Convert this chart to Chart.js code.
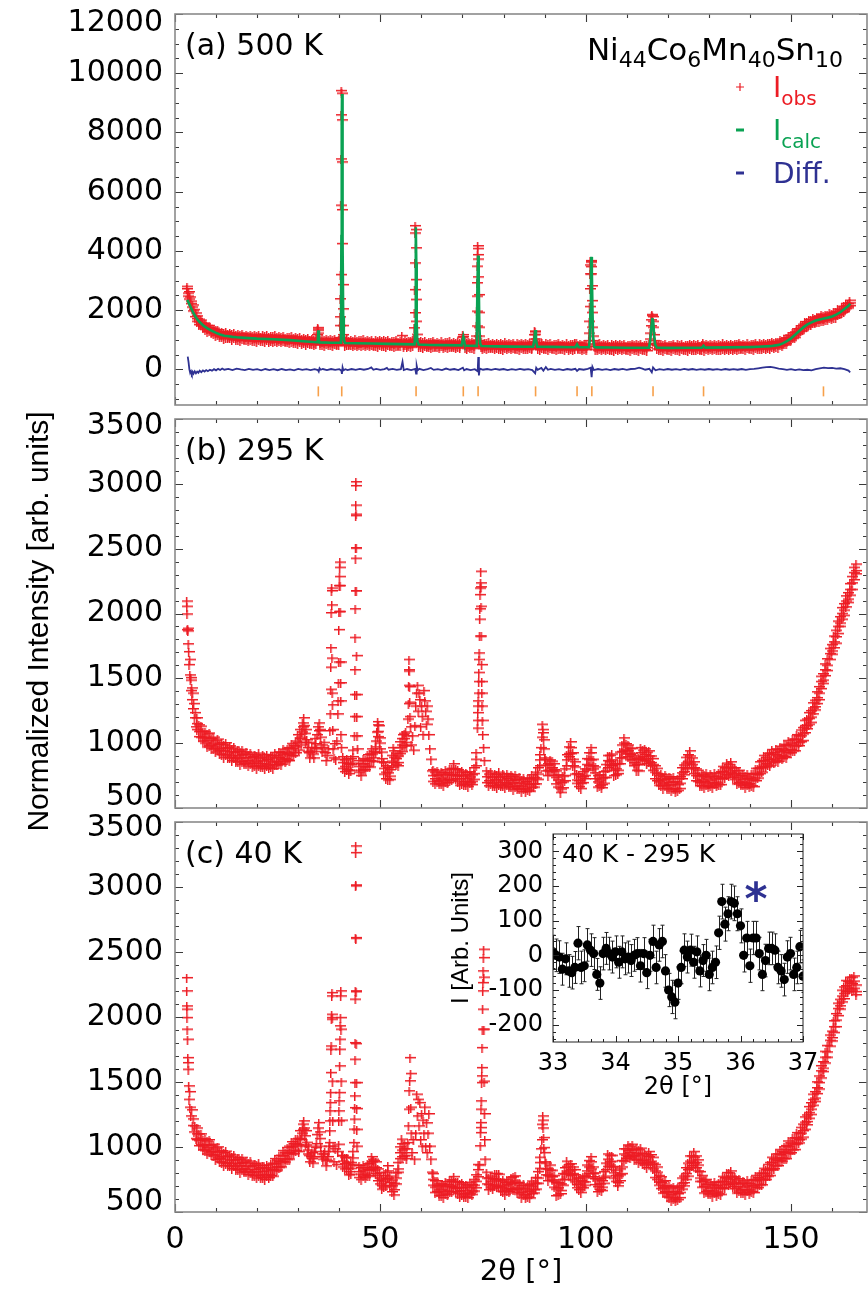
<!DOCTYPE html>
<html lang="en">
<head>
<meta charset="utf-8">
<title>Ni44Co6Mn40Sn10 powder diffraction</title>
<script src="https://cdn.jsdelivr.net/npm/chart.js@4.4.1/dist/chart.umd.min.js"></script>
<style>
  html, body { margin: 0; padding: 0; background: #fff; }
  #figure { position: relative; width: 868px; height: 1289px; overflow: hidden; background: #fff; }
  #figure canvas { position: absolute; }
</style>
</head>
<body>
<div id="figure">
  <canvas id="panelA" width="868" height="420" style="left:0;top:0;width:868px;height:420px"></canvas>
  <canvas id="panelB" width="868" height="440" style="left:0;top:400px;width:868px;height:440px"></canvas>
  <canvas id="panelC" width="868" height="489" style="left:0;top:800px;width:868px;height:489px"></canvas>
  <canvas id="inset" width="438" height="290" style="left:430px;top:824px;width:438px;height:290px"></canvas>
</div>
<script>
// ---------------------------------------------------------------------------
// Data rows: [2θ (deg), reading, reading, ...] in arb. units.
// Several readings at one angle give the scatter of the counts there.
// ---------------------------------------------------------------------------

// (a) 500 K: observed
const obs500 = [
  [3.0,2700],[3.1,2780],[3.2,2550],[3.3,2450],[3.45,2600],[3.6,2350],[3.75,2420],[3.9,2200],[4.05,2280],[4.2,2080],
  [4.4,2150],[4.6,1950],[4.8,2000],[5.0,1760],[5.2,1880],
  [5.5,1780,1690,1600],[6.0,1670,1570,1490],[6.5,1640,1560,1470],[7.0,1520,1420,1370],[7.5,1510,1420,1330],
  [8.0,1460,1360,1260],[8.5,1460,1380,1270],[9.0,1360,1260,1210],[9.5,1365,1275,1185],[10.0,1306,1206,1126],
  [10.5,1315,1235,1145],[11.0,1230,1130,1080],[11.5,1250,1160,1070],[12.0,1220,1120,1020],[12.5,1250,1170,1060],
  [13.0,1180,1080,1030],[13.5,1210,1120,1030],[14.0,1170,1070,990],[14.5,1202,1122,1032],[15.0,1135,1035,985],
  [15.5,1170,1080,990],[16.0,1155,1055,955],[16.5,1190,1110,1000],[17.0,1125,1025,975],[17.5,1160,1070,980],
  [18.0,1125,1025,945],[18.5,1160,1080,990],[19.0,1096,996,946],[19.5,1133,1043,953],[20.0,1120,1020,920],
  [20.5,1158,1078,968],[21.0,1095,995,945],[21.5,1133,1043,953],[22.0,1100,1000,920],[22.5,1138,1058,968],
  [23.0,1075,975,925],[23.5,1113,1023,933],[24.0,1100,1000,900],[24.5,1136,1056,946],[25.0,1072,972,922],
  [25.5,1108,1018,928],[26.0,1075,975,895],[26.5,1110,1030,940],[27.0,1046,946,896],[27.5,1083,993,903],
  [28.0,1070,970,870],[28.5,1105,1025,915],[29.0,1038,938,888],[29.5,1072,982,892],[30.0,1036,936,856],
  [30.5,1070,990,900],[31.0,1005,905,855],[31.5,1040,950,860],[32.0,1025,925,825],[32.5,1060,980,870],
  [33.0,993,893,843],[33.5,1027,937,847],[34.0,991,891,811],[34.5,1028,948,858],
  [34.75,1000],[34.8,1150],[34.85,1300],[34.9,1390],[34.95,1340],[35.0,1200],[35.05,1020],
  [35.5,962,862,812],[36.0,1000,910,820],[36.5,988,888,788],[37.0,1026,946,836],[37.5,964,864,814],
  [38.0,1002,912,822],[38.5,971,871,791],[39.0,1010,930,840],[39.5,950,850,800],[40.0,990,900,810],
  [40.25,1050],[40.3,1460],[40.35,1750],[40.4,2360],[40.45,3180],[40.5,5520],[40.55,7080],[40.6,8570],[40.65,9390],
  [40.7,9300],[40.75,8400],[40.8,6980],[40.85,5370],[40.9,4225],[40.95,2840],[41.0,2020],[41.05,1460],[41.1,1150],
  [41.5,973,873,773],[42.0,1012,932,822],[42.5,951,851,801],[43.0,989,899,809],[43.5,958,858,778],
  [44.0,995,915,825],[44.5,934,834,784],[45.0,973,883,793],[45.5,962,862,762],[46.0,1000,920,810],
  [46.5,939,839,789],[47.0,978,888,798],[47.5,947,847,767],[48.0,986,906,816],[48.5,924,824,774],
  [49.0,963,873,783],[49.5,951,851,751],[50.0,990,910,800],[50.5,929,829,779],[51.0,968,878,788],
  [51.5,936,836,756],[52.0,975,895,805],[52.5,913,813,763],[53.0,952,862,772],[53.5,940,840,740],
  [54.0,978,898,788],[54.5,917,817,767],[55.0,955,865,775],[55.4,1120],[55.8,923,823,743],
  [56.2,962,882,792],[56.6,901,801,751],[57.0,940,850,760],[57.5,929,829,729],[58.0,967,887,777],
  [58.35,1000],[58.4,1380],[58.45,1890],[58.5,2670],[58.55,3570],[58.6,4580],[58.65,4830],[58.7,4700],[58.75,4080],
  [58.8,3010],[58.85,2340],[58.9,1600],[58.95,1160],[59.05,950],
  [59.5,900,800,750],[60.0,930,840,750],[60.5,899,799,719],[61.0,938,858,768],[61.5,877,777,727],
  [62.0,915,825,735],[62.5,904,804,704],[63.0,943,863,753],[63.5,882,782,732],[64.0,921,831,741],
  [64.5,890,790,710],[65.0,930,850,760],[65.5,869,769,719],[66.0,908,818,728],[66.5,897,797,697],
  [67.0,936,856,746],[67.5,875,775,725],[68.0,915,825,735],[68.5,884,784,704],[69.0,923,843,753],[69.5,862,762,712],
  [70.0,910],[70.1,1060],[70.2,1150],[70.3,1080],[70.4,920],
  [70.8,899,809,719],[71.2,887,787,687],[71.6,926,846,736],[72.0,864,764,714],[72.5,900,810,720],[73.0,867,767,687],
  [73.45,950],[73.5,1100],[73.55,1440],[73.6,1940],[73.65,2450],[73.7,2900],[73.75,3460],[73.8,3850],[73.85,4150],
  [73.9,4060],[73.95,3700],[74.0,3100],[74.05,2500],[74.1,1900],[74.15,1400],[74.2,1100],[74.25,950],
  [74.7,901,821,731],[75.0,840,740,690],[75.5,878,788,698],[76.0,867,767,667],[76.5,905,825,715],
  [77.0,843,743,693],[77.5,882,792,702],[78.0,850,750,670],[78.5,889,809,719],[79.0,828,728,678],
  [79.5,867,777,687],[80.0,855,755,655],[80.5,894,814,704],[81.0,833,733,683],[81.5,872,782,692],
  [82.0,842,742,662],[82.5,881,801,711],[83.0,821,721,671],[83.5,860,770,680],[84.0,850,750,650],
  [84.5,889,809,699],[85.0,828,728,678],[85.5,868,778,688],[86.0,837,737,657],[86.5,877,797,707],[87.0,816,716,666],
  [87.4,900],[87.5,1000],[87.6,1150],[87.7,1270],[87.8,1250],[87.9,1160],[88.0,1000],[88.1,880],
  [88.5,855,765,675],[89.0,844,744,644],[89.5,884,804,694],[90.0,824,724,674],[90.5,863,773,683],
  [91.0,832,732,652],[91.5,871,791,701],[92.0,810,710,660],[92.5,849,759,669],[93.0,838,738,638],
  [93.5,877,797,687],[94.0,816,716,666],[94.5,856,766,676],[95.0,825,725,645],[95.5,864,784,694],
  [96.0,803,703,653],[96.5,842,752,662],[97.0,831,731,631],[97.5,872,792,682],[97.9,880],
  [98.3,812,712,662],[98.8,851,761,671],[99.3,820,720,640],[99.8,859,779,689],[100.3,798,698,648],
  [100.9,950],[101.0,1200],[101.05,1600],[101.1,2100],[101.15,2700],[101.2,3200],[101.25,3500],[101.3,3630],[101.35,3650],
  [101.4,3600],[101.45,3450],[101.5,3200],[101.55,2800],[101.6,2300],[101.65,1900],[101.75,1400],[101.85,1100],[101.95,950],
  [102.5,835,745,655],[103.0,824,724,624],[103.5,864,784,674],[104.0,803,703,653],[104.5,842,752,662],
  [105.0,811,711,631],[105.5,851,771,681],[106.0,790,690,640],[106.5,829,739,649],[107.0,819,719,619],
  [107.5,858,778,668],[108.0,798,698,648],[108.5,837,747,657],[109.0,806,706,626],[109.5,846,766,676],
  [110.0,785,685,635],[110.5,825,735,645],[111.0,814,714,614],[111.5,854,774,664],[112.0,793,693,643],
  [112.5,833,743,653],[113.0,803,703,623],[113.5,842,762,672],[114.0,782,682,632],[114.5,822,732,642],[115.0,812,712,612],
  [115.6,850],[115.8,1000],[115.9,1200],[116.0,1450],[116.1,1650],[116.2,1800],[116.3,1830],[116.4,1760],[116.5,1600],
  [116.6,1400],[116.7,1150],[116.85,950],[117.0,830],
  [117.5,855,775,665],[118.0,793,693,643],[118.5,832,742,652],[119.0,801,701,621],[119.5,840,760,670],
  [120.0,780,680,630],[120.5,820,730,640],[121.0,810,710,610],[121.5,850,770,660],[122.0,791,691,641],
  [122.5,831,741,651],[123.0,801,701,621],[123.5,841,761,671],[124.0,782,682,632],[124.5,822,732,642],
  [125.0,812,712,612],[125.5,853,773,663],[126.0,793,693,643],[126.5,834,744,654],[127.0,804,704,624],
  [127.5,844,764,674],[128.0,785,685,635],[128.4,825,735,645],[128.7,860],[129.0,818,718,618],
  [129.5,859,779,669],[130.0,800,700,650],[130.5,841,751,661],[131.0,812,712,632],[131.5,853,773,683],
  [132.0,794,694,644],[132.5,834,744,654],[133.0,825,725,625],[133.5,865,785,675],[134.0,806,706,656],
  [134.5,846,756,666],[135.0,817,717,637],[135.5,858,778,688],[136.0,799,699,649],[136.5,840,750,660],
  [137.0,831,731,631],[137.5,872,792,682],[138.0,813,713,663],[138.5,854,764,674],[139.0,825,725,645],
  [139.5,866,786,696],[140.0,807,707,657],[140.5,849,759,669],[141.0,841,741,641],[141.5,883,803,693],
  [142.0,825,725,675],[142.5,870,780,690],[143.0,845,745,665],[143.5,889,809,719],[144.0,832,732,682],
  [144.5,874,784,694],[145.0,866,766,666],[145.5,915,835,725],[146.0,865,765,715],[146.5,917,827,737],
  [147.0,900,800,720],[147.5,965,885,795],[148.0,930,830,780],[148.5,1010,920,830],[149.0,1040,940,840],
  [149.5,1125,1045,935],[150.0,1110,1010,960],[150.5,1210,1120,1030],[151.0,1240,1140,1060],[151.5,1345,1265,1175],
  [152.0,1350,1250,1200],[152.5,1450,1360,1270],[153.0,1500,1400,1300],[153.5,1590,1510,1400],[154.0,1580,1480,1430],
  [154.5,1655,1565,1475],[155.0,1660,1560,1480],[155.5,1730,1650,1560],[156.0,1700,1600,1550],[156.5,1760,1670,1580],
  [157.0,1770,1670,1570],[157.5,1825,1745,1635],[158.0,1780,1680,1630],[158.5,1835,1745,1655],[159.0,1820,1720,1640],
  [159.5,1880,1800,1710],[160.0,1840,1740,1690],[160.5,1910,1820,1730],[161.0,1930,1830,1730],[161.5,2010,1930,1820],
  [162.0,1990,1890,1840],[162.5,2085,1995,1905],[163.0,2110,2010,1930],[163.5,2205,2125,2035],[164.0,2200,2100,2050],
  [164.4,2310,2220,2130]
];

// (a) 500 K: calculated profile
const calc500 = [
  [3.0,2350],[3.5,2200],[4.0,2050],[4.5,1900],[5.0,1780],[5.5,1680],[6.0,1600],[7.0,1470],[8.0,1380],[9.0,1300],
  [10.0,1236],[11.0,1180],[12.0,1140],[13.0,1120],[14.0,1100],[15.0,1085],[17.0,1065],[20.0,1040],[24.0,1020],[28.0,990],
  [32.0,945],[34.6,918],[34.75,940],[34.9,1320],[35.05,940],[35.2,915],[38.0,902],[40.3,900],[40.42,1500],[40.52,4500],
  [40.6,8200],[40.67,9300],[40.75,8000],[40.85,4300],[40.95,1800],[41.1,1000],[41.4,893],[44.0,885],[48.0,876],[52.0,865],
  [55.0,855],[58.0,847],[58.35,850],[58.5,1500],[58.6,3500],[58.67,4800],[58.75,3600],[58.85,1600],[59.0,950],[59.3,843],
  [62.0,825],[65.0,820],[69.8,812],[70.05,1000],[70.2,1100],[70.35,1000],[70.6,810],[73.3,795],[73.5,1300],[73.65,2900],
  [73.8,3850],[73.95,3000],[74.1,1500],[74.3,880],[74.6,790],[78.0,780],[82.0,772],[87.2,768],[87.5,1000],[87.7,1330],
  [87.9,1000],[88.2,768],[92.0,762],[97.5,752],[97.9,850],[98.3,752],[100.8,748],[101.0,1000],[101.15,2000],[101.28,3300],
  [101.38,3800],[101.5,3300],[101.65,2000],[101.8,1100],[102.1,770],[102.5,745],[106.0,740],[110.0,735],[115.4,732],
  [115.7,950],[115.95,1350],[116.2,1700],[116.3,1720],[116.45,1600],[116.65,1200],[116.9,850],[117.3,740],[120.0,730],
  [125.0,732],[128.3,735],[128.7,800],[129.1,738],[135.0,745],[140.0,755],[142.0,765],[145.0,786],[147.0,830],[148.0,880],
  [149.0,960],[150.0,1050],[151.0,1170],[152.0,1300],[153.0,1420],[154.0,1520],[155.0,1590],[156.0,1650],[157.0,1690],
  [158.0,1720],[159.0,1750],[160.0,1790],[161.0,1850],[162.0,1930],[163.0,2040],[164.0,2150],[164.4,2220]
];

// (a) 500 K: observed minus calculated
const diff500 = [
  [3.1,430],[3.3,250],[3.5,0],[3.7,-120],[3.9,-60],[4.1,-150],[4.3,-80],[4.5,-140],[4.8,-60],[5.1,-130],[5.4,-70],
  [5.7,-110],[6.0,-40],[6.4,-90],[6.8,-30],[7.2,-70],[7.6,-20],[8.0,-60],[8.5,-10],[9.0,-40],[9.5,10],[10.0,-30],
  [10.5,20],[11.0,-20],[11.5,30],[12.0,-10],[13,20],[14,-20],[15,30],[16,0],[17,-25],[18,20],[19,-15],[20,10],[21,-30],
  [22,15],[23,-20],[24,10],[25,-25],[26,15],[27,-20],[28,5],[29,-30],[30,20],[31,-15],[32,10],[33,-20],[34,10],
  [34.8,-20],[35.0,-70],[35.2,40],[35.5,-10],[36,15],[37,-20],[38,15],[39,-15],[40,10],[40.5,-40],[40.65,-150],
  [40.8,70],[41.0,-30],[41.5,10],[42,-20],[43,15],[44,-15],[45,20],[46,-10],[47,15],[47.8,70],[48.3,-10],[49,20],
  [50,-15],[51,10],[51.6,50],[52,-10],[53,20],[54,-15],[55,10],[55.4,260],[55.7,-20],[56.5,15],[57.5,-20],[58.5,20],
  [58.7,-140],[58.85,130],[59.1,-30],[59.5,20],[60.5,-20],[61.5,15],[62.3,50],[63,-15],[64,10],[65,-20],[66,30],
  [67,-10],[68,15],[69,-20],[70.1,60],[70.4,-30],[71,15],[72,-20],[73,10],[73.7,-60],[73.85,420],[74.0,-200],
  [74.2,30],[75,-10],[76,15],[77,-15],[78,20],[79,-10],[80,15],[81,-20],[82,10],[83,-15],[84,20],[85,-10],[86,10],
  [87,-20],[87.7,-130],[87.95,60],[88.3,-10],[89.2,50],[89.7,-40],[90.3,80],[90.8,-10],[91.5,20],[92.5,-15],
  [93.5,10],[94.5,-20],[95.5,15],[96.5,-10],[97.5,20],[97.9,-50],[98.4,15],[99.5,-10],[100.5,20],[101.2,60],
  [101.45,-260],[101.65,90],[102,-20],[103,15],[104,-15],[105,10],[106,-20],[107,15],[108,-10],[109,20],[110,-15],
  [111,15],[112,20],[113,60],[113.8,30],[114.5,-10],[115.5,20],[116.1,-100],[116.4,70],[117,-30],[118,10],[119,-15],
  [120,15],[121,-10],[122,10],[123,-15],[124,20],[125,-10],[126,15],[127,-15],[128,10],[129,-10],[130,15],[131,-10],
  [132,10],[133,-15],[134,15],[135,-10],[136,10],[137,-10],[138,15],[139,-15],[140,10],[141,20],[142,40],[143,60],
  [144,80],[145,90],[146,60],[147,30],[148,10],[149,-15],[150,10],[151,-20],[152,0],[153,-25],[154,-10],[155,-30],
  [156,10],[157,40],[158,60],[159,45],[160,50],[161,30],[162,40],[163,10],[164,-40],[164.4,-100]
];

// (a) 500 K: Bragg reflection positions and the row they are marked on
const braggPos500 = [34.9, 40.6, 58.7, 70.2, 73.8, 87.8, 97.9, 101.5, 116.4, 128.7, 157.9];
const braggRow500 = -740;

// (b) 295 K: observed
const obs295 = [
  [3.0,2090],[3.05,2050],[3.1,1990],[3.15,1870],[3.2,1880],[3.3,1860],[3.4,1760],[3.5,1700],[3.6,1600],[3.7,1640],
  [3.8,1520],[3.9,1480],[4.0,1500],[4.1,1400],[4.2,1420],[4.3,1330],[4.4,1380],[4.5,1260],[4.7,1300],[4.9,1190],
  [5.1,1230],[5.3,1120],
  [5.5,1190,1145,1100],[6.0,1135,1085,1045],[6.5,1125,1085,1040],[7.0,1085,1035,1010],[7.5,1085,1040,995],
  [8.0,1065,1015,965],[8.5,1072,1032,977],[9.0,1030,980,955],[9.5,1040,995,950],[10.0,1015,965,925],
  [10.5,1025,985,940],[11.0,985,935,910],[11.5,997,952,907],[12.0,985,935,885],[12.5,997,957,902],
  [13.0,960,910,885],[13.5,973,928,883],[14.0,950,900,860],[14.5,963,923,878],[15.0,927,877,852],
  [15.5,941,896,851],[16.0,931,881,831],[16.5,946,906,851],[17.0,911,861,836],[17.5,926,881,836],
  [18.0,907,857,817],[18.5,923,883,838],[19.0,890,840,815],[19.5,907,862,817],[20.0,900,850,800],
  [20.5,917,877,822],[21.0,885,835,810],[21.5,903,858,813],[22.0,887,837,797],[22.5,907,867,822],
  [23.0,878,828,803],[23.5,900,855,810],[24.0,898,848,798],[24.5,923,883,828],[25.0,900,850,825],
  [25.5,927,882,837],[26.0,920,870,830],[26.5,948,908,863],[27.0,925,875,850],[27.5,955,910,865],
  [28.0,960,910,860],[28.5,992,952,897],[29.0,975,925,900],[29.5,1010,965,920],
  [30.0,1060],[30.15,1000],[30.3,940],[30.45,1030],[30.6,1100],[30.75,1040],[30.9,980],[31.05,1080],[31.2,1150],
  [31.35,1120],[31.5,1190],[31.65,1130],[31.8,1070],[31.95,1000],[32.1,1100],[32.25,1020],[32.4,930],[32.55,960],
  [32.7,1000],[32.85,920],[33.0,880],[33.25,930],[33.5,960],[33.75,910],[34.0,880],[34.15,960],[34.3,1030],[34.45,990],
  [34.6,950],[34.8,1060],[35.0,1120],[35.15,1090],[35.3,1150],[35.45,1100],[35.6,1040],[35.8,980],[36.0,930],
  [36.25,960],[36.5,1000],[36.75,920],[37.0,860],[37.25,900],[37.5,950],
  [37.9,1090],[38.0,1220],[38.05,1410],[38.1,1580],[38.15,1730],[38.2,2000],[38.25,2170],[38.3,2190],[38.35,2060],
  [38.4,1650],[38.45,1380],[38.5,1290],[38.6,1100],[38.7,950],
  [38.9,880],[39.1,990],[39.3,870],[39.6,1010],
  [39.85,1220],[39.9,1320],[39.95,1460],[40.0,1620],[40.05,1870],[40.1,2010],[40.15,2210],[40.2,2280],[40.25,2350],
  [40.3,2390],[40.35,2210],[40.4,2010],[40.45,1620],[40.5,1460],[40.55,1320],[40.6,1060],[40.7,960],
  [41.0,890,845,800],[41.5,865,815,775],[42.0,875,835,790],[42.5,835,785,760],[43.0,875,830,785],[43.5,940,890,840],
  [43.85,1050],[43.9,1200],[43.95,1370],[44.0,1560],[44.02,1810],[44.05,2030],[44.08,2170],[44.1,2420],[44.12,2500],
  [44.15,2750],[44.18,2830],[44.2,2980],[44.22,3010],[44.25,2760],[44.28,2500],[44.3,2170],[44.35,1670],[44.4,1370],
  [44.45,1200],[44.5,1050],[44.6,950],
  [45.0,860,815,770],[45.5,835,785,745],[46.0,875,835,790],[46.5,865,815,790],[47.0,905,860,815],
  [47.5,910,860,810],[48.0,950,910,855],[48.5,930,880,855],[49.0,1010,965,920],[49.3,1080],[49.5,1135,1085,1045,1160],
  [49.7,1130],[50.0,1035,995,950],[50.5,925,875,850],[51.0,845,800,755],[51.5,820,770,720],[52.0,805,765,710],
  [52.5,790,740,715],[53.0,900,855,810],[53.3,960],[53.5,935,885,845],[54.0,915,875,830],[54.5,895,845,820],
  [55.0,1005,960,915],[55.5,1030,980,930],[55.6,1060],[56.0,1070,1030,975],[56.3,1080],[56.5,1050,1000,975],
  [56.9,1180],[57.0,1300],[57.05,1440],[57.1,1560],[57.15,1640],[57.2,1550],[57.25,1430],[57.3,1310],[57.4,1200],
  [57.5,1120],[57.7,980],[58.0,1050],[58.3,940],
  [58.6,1130],[58.8,1280],[59.0,1380],[59.2,1440],[59.4,1240],[59.6,1380],[59.8,1330],[60.0,1120],[60.2,1280],
  [60.4,1200],[60.6,1060],[60.8,1400],[61.0,1320],[61.2,1240],[61.4,1140],[61.6,1280],[61.8,1180],[62.0,1060],
  [62.2,950],[62.5,870],[62.8,780],
  [63.0,790,745,700],[63.5,770,720,680],[64.0,785,745,700],[64.5,753,703,678],[65.0,770,725,680],
  [65.5,765,715,665],[66.0,788,748,693],[66.5,765,715,690],[67.0,795,750,705],[67.5,800,750,710],
  [68.0,835,795,750],[68.5,795,745,720],[69.0,790,745,700],[69.5,770,720,670],[70.0,780,740,685],
  [70.5,748,698,673],[71.0,766,721,676],[71.5,751,701,661],[72.0,773,733,688],[72.5,750,700,675],
  [73.0,805,760,715],[73.5,920,870,820],
  [73.8,1110],[73.85,1170],[73.9,1230],[73.95,1280],[74.0,1320],[74.05,1380],[74.1,1470],[74.15,1540],[74.2,1640],
  [74.25,1690],[74.3,1820],[74.35,1950],[74.4,2030],[74.45,2140],[74.5,2190],[74.55,2230],[74.6,2320],[74.65,2200],
  [74.7,2050],[74.75,1820],[74.8,1600],[74.85,1470],[74.9,1380],[74.95,1280],[75.0,1170],[75.1,1060],[75.3,960],[75.5,860],
  [76.0,780,735,690],[76.5,755,705,665],[77.0,770,730,685],[77.5,737,687,662],[78.0,757,712,667],
  [78.5,752,702,652],[79.0,770,730,675],[79.5,738,688,663],[80.0,755,710,665],[80.5,738,688,648],
  [81.0,760,720,675],[81.5,735,685,660],[82.0,750,705,660],[82.5,738,688,638],[83.0,752,712,657],
  [83.5,718,668,643],[84.0,732,687,642],[84.5,711,661,621],[85.0,725,685,640],[85.5,697,647,622],
  [86.0,723,678,633],[86.5,724,674,624],[87.0,750,710,655],[87.5,730,680,655],[88.0,770,725,680],
  [88.5,805,755,715],[89.0,905,865,820],[89.3,960],
  [89.5,1040],[89.6,1140],[89.7,1100],[89.8,1075],[89.9,1020],[90.0,950],[90.2,880],
  [90.5,870,825,780],[91.0,835,785,745],[91.5,865,825,780],[92.0,855,805,780],[92.5,835,790,745],
  [93.0,780,730,680],[93.5,750,710,655],[94.0,690,640,615],[94.5,740,695,650],[95.0,795,745,705],
  [95.5,905,865,820],[96.0,965,915,890],[96.5,1005,960,915],[97.0,920,870,820],[97.5,850,810,755],
  [98.0,760,710,685],[98.5,750,705,660],[99.0,735,685,645],[99.5,775,735,690],[100.0,795,745,720],
  [100.5,875,830,785],[101.0,920,870,820],[101.5,960,920,865],[102.0,870,820,795],[102.5,810,765,720],
  [103.0,745,695,655],[103.5,750,710,665],[104.0,725,675,650],[104.5,775,730,685],[105.0,830,780,730],
  [105.5,900,860,805],[106.0,900,850,825],[106.5,910,865,820],[107.0,835,785,745],[107.5,835,795,750],
  [108.0,835,785,760],[108.5,925,880,835],[109.0,980,930,880],[109.5,1035,995,940],[110.0,990,940,915],
  [110.5,980,935,890],[111.0,955,905,865],[111.5,955,915,870],[112.0,895,845,820],[112.5,875,830,785],
  [113.0,880,830,780],[113.5,960,920,865],[114.0,940,890,865],[114.5,950,905,860],[115.0,925,875,835],
  [115.5,935,895,850],[116.0,895,845,820],[116.5,875,830,785],[117.0,820,770,720],[117.5,800,760,705],
  [118.0,745,695,670],[118.5,755,710,665],[119.0,735,685,645],[119.5,753,713,668],[120.0,720,670,645],
  [120.5,735,690,645],[121.0,725,675,625],[121.5,735,695,640],[122.0,695,645,620],[122.5,720,675,630],
  [123.0,735,685,645],[123.5,805,765,720],[124.0,825,775,750],[124.5,885,840,795],[125.0,905,855,805],
  [125.5,935,895,840],[126.0,880,830,805],[126.5,850,805,760],[127.0,795,745,705],[127.5,785,745,700],
  [128.0,740,690,665],[128.5,755,710,665],[129.0,748,698,648],[129.5,765,725,670],[130.0,735,685,660],
  [130.5,755,710,665],[131.0,741,691,651],[131.5,763,723,678],[132.0,737,687,662],[132.5,765,720,675],
  [133.0,775,725,675],[133.5,815,775,720],[134.0,805,755,730],[134.5,840,795,750],[135.0,830,780,740],
  [135.5,850,810,765],[136.0,805,755,730],[136.5,805,760,715],[137.0,780,730,680],[137.5,785,745,690],
  [138.0,745,695,670],[138.5,760,715,670],[139.0,741,691,651],[139.5,760,720,675],[140.0,731,681,656],
  [140.5,755,710,665],[141.0,760,710,660],[141.5,800,760,705],[142.0,800,750,725],[142.5,850,805,760],
  [143.0,860,810,770],[143.5,900,860,815],[144.0,885,835,810],[144.5,915,870,825],[145.0,918,868,818],
  [145.5,945,905,850],[146.0,922,872,847],[146.5,950,905,860],[147.0,943,893,853],[147.5,970,930,885],
  [148.0,950,900,875],[148.5,980,935,890],[149.0,985,935,885],[149.5,1015,975,920],[150.0,995,945,920],
  [150.5,1025,980,935],[151.0,1025,975,935],[151.5,1060,1020,975],[152.0,1050,1000,975],[152.5,1095,1050,1005],
  [153.0,1115,1065,1015],[153.5,1170,1130,1075],[154.0,1180,1130,1105],[154.5,1230,1185,1140],[155.0,1245,1195,1155],
  [155.5,1305,1265,1220],[156.0,1325,1275,1250],[156.5,1390,1345,1300],[157.0,1430,1380,1330],[157.5,1510,1470,1415],
  [158.0,1530,1480,1455],[158.5,1605,1560,1515],[159.0,1645,1595,1555],[159.5,1725,1685,1640],[160.0,1755,1705,1680],
  [160.5,1820,1775,1730],[161.0,1865,1815,1765],[161.5,1935,1895,1840],[162.0,1970,1920,1895],[162.5,2040,1995,1950],
  [163.0,2070,2020,1980],[163.5,2130,2090,2045],[164.0,2155,2105,2080],[164.5,2225,2180,2135],[165.0,2280,2230,2180],
  [165.5,2350,2310,2255],[166.0,2375,2325,2300]
];

// (c) 40 K: observed
const obs40 = [
  [3.0,2297],[3.02,2195],[3.05,2079],[3.08,2054],[3.1,1990],[3.15,1900],[3.2,1823],[3.3,1682],[3.35,1643],[3.4,1592],
  [3.5,1464],[3.6,1361],[3.7,1420],[3.8,1300],[4.0,1233],[4.2,1280],[4.4,1160],[4.6,1210],[4.8,1110],[5.0,1156],[5.3,1060],
  [5.5,1140,1095,1050],[6.0,1095,1045,1005],[6.5,1095,1055,1010],[7.0,1050,1000,975],[7.5,1057,1012,967],
  [8.0,1040,990,940],[8.5,1050,1010,955],[9.0,1008,958,933],[9.5,1015,970,925],[10.0,987,937,897],
  [10.5,995,955,910],[11.0,955,905,880],[11.5,965,920,875],[12.0,950,900,850],[12.5,962,922,867],
  [13.0,925,875,850],[13.5,938,893,848],[14.0,917,867,827],[14.5,932,892,847],[15.0,897,847,822],
  [15.5,911,866,821],[16.0,900,850,800],[16.5,914,874,819],[17.0,878,828,803],[17.5,892,847,802],
  [18.0,871,821,781],[18.5,885,845,800],[19.0,850,800,775],[19.5,865,820,775],[20.0,855,805,755],
  [20.5,870,830,775],[21.0,835,785,760],[21.5,850,805,760],[22.0,833,783,743],[22.5,855,815,770],
  [23.0,833,783,758],[23.5,863,818,773],[24.0,870,820,770],[24.5,905,865,810],[25.0,892,842,817],
  [25.5,928,883,838],[26.0,930,880,840],[26.5,967,927,882],[27.0,953,903,878],[27.5,990,945,900],
  [28.0,1000,950,900],[28.5,1035,995,940],[29.0,1020,970,945],[29.5,1055,1010,965],
  [30.0,1060],[30.15,1010],[30.3,960],[30.45,1050],[30.6,1120],[30.75,1060],[30.9,1000],[31.05,1100],[31.2,1170],
  [31.35,1130],[31.5,1195],[31.65,1140],[31.8,1080],[31.95,1010],[32.1,1120],[32.25,1030],[32.4,940],[32.55,970],
  [32.7,1000],[32.85,930],[33.0,880],[33.2,920],[33.4,950],[33.6,905],[33.8,870],[34.0,920],[34.2,960],[34.4,990],
  [34.6,1020],[34.8,1090],[35.0,1140],[35.2,1182],[35.35,1110],[35.5,1060],[35.65,1000],[35.8,940],[36.0,920],
  [36.2,900],[36.4,940],[36.6,960],[36.8,900],[37.0,849],[37.2,890],[37.4,920],[37.55,960],[37.7,1000],
  [37.8,1028],[37.85,1118],[37.9,1195],[37.95,1272],[38.0,1336],[38.05,1413],[38.1,1567],[38.15,1746],[38.2,1771],
  [38.25,1977],[38.3,2015],[38.35,2156],[38.4,2182],[38.45,1990],[38.5,1500],[38.6,1200],[38.7,1000],
  [38.9,880],[39.2,980],[39.5,860],[39.8,960],
  [40.0,1015],[40.05,1195],[40.1,1272],[40.15,1349],[40.2,1413],[40.25,1618],[40.3,1746],[40.35,1823],[40.4,1926],
  [40.45,1990],[40.5,2156],[40.55,2195],[40.6,1900],[40.65,1500],[40.7,1200],[40.8,926],
  [41.0,930,885,840],[41.5,915,865,825],[42.0,915,875,830],[42.5,855,805,780],[43.0,875,830,785],[43.5,960,910,860],
  [43.75,1028],[43.8,1131],[43.85,1208],[43.9,1297],[43.95,1387],[44.0,1490],[44.02,1669],[44.04,1797],[44.06,2131],
  [44.08,2195],[44.1,2605],[44.12,3003],[44.14,3259],[44.16,3310],[44.18,3010],[44.2,2600],[44.25,2190],[44.3,1790],
  [44.35,1490],[44.4,1290],[44.45,1130],[44.5,1000],
  [45.0,850,805,760],[45.5,835,785,745],[46.0,855,815,770],[46.5,835,785,760],[47.0,865,820,775],
  [47.5,870,820,770],[48.0,920,880,825],[48.3,900],[48.5,890,840,815],[49.0,880,835,790],[49.5,825,775,735],
  [50.0,795,755,710],[50.5,745,695,670],[51.0,775,730,685],[51.5,800,750,700],[52.0,850,810,755],
  [52.5,770,720,695],[53.0,740,695,650],[53.5,715,665,625],[54.0,795,755,710],[54.5,875,825,800],
  [55.0,995,950,905],[55.3,1054],[55.5,1020,970,920],[56.0,1020,980,925],[56.5,980,930,905],
  [56.9,1028],[57.0,1156],[57.1,1285],[57.2,1426],[57.3,1503],[57.4,1682],[57.5,1560],[57.6,1300],[57.7,1100],[57.9,950],
  [58.2,1050],[58.5,900],[58.8,1100],[59.0,1400],[59.2,1233],[59.4,1361],[59.6,1156],[59.8,1336],[60.0,1050],
  [60.2,1250],[60.4,1000],[60.6,1200],[60.8,1100],[61.0,1300],[61.2,1000],[61.4,1180],[61.6,950],[61.8,1100],
  [62.0,1250],[62.2,1000],[62.5,900],[62.8,800],
  [63.0,790,745,700],[63.5,735,685,645],[64.0,735,695,650],[64.5,697,647,622],[65.0,713,668,623],
  [65.5,705,655,605],[66.0,728,688,633],[66.5,705,655,630],[67.0,740,695,650],[67.5,740,690,650],
  [68.0,767,727,682],[68.5,725,675,650],[69.0,727,682,637],[69.5,708,658,608],[70.0,720,680,625],
  [70.5,685,635,610],[71.0,705,660,615],[71.5,695,645,605],[72.0,723,683,638],[72.5,705,655,630],
  [73.0,745,700,655],[73.5,780,730,680],[74.0,860,820,765],[74.3,855],
  [74.5,1003],[74.55,1105],[74.6,1144],[74.65,1182],[74.7,1285],[74.75,1349],[74.8,1490],[74.85,1541],[74.9,1605],
  [74.95,1759],[75.0,1900],[75.05,2054],[75.1,2195],[75.15,2259],[75.2,2349],[75.25,2451],[75.3,2515],[75.35,2300],
  [75.4,1900],[75.45,1500],[75.5,1250],[75.6,1050],[75.7,900],
  [76.0,800,755,710],[76.5,755,705,665],[77.0,770,730,685],[77.5,750,700,675],[78.0,790,745,700],
  [78.5,790,740,690],[79.0,785,745,690],[79.5,730,680,655],[80.0,740,695,650],[80.5,720,670,630],
  [81.0,745,705,660],[81.5,725,675,650],[82.0,760,715,670],[82.5,765,715,665],[83.0,772,732,677],
  [83.5,720,670,645],[84.0,722,677,632],[84.5,697,647,607],[85.0,710,670,625],[85.5,677,627,602],
  [86.0,700,655,610],[86.5,702,652,602],[87.0,732,692,637],[87.5,715,665,640],[88.0,760,715,670],
  [88.5,805,755,715],[89.0,915,875,830],[89.3,980],
  [89.5,1050],[89.6,1169],[89.7,1233],[89.75,1200],[89.8,1140],[89.9,1067],[90.0,990],[90.1,951],[90.3,880],
  [90.5,870,825,780],[91.0,825,775,735],[91.5,855,815,770],[92.0,815,765,740],[92.5,775,730,685],
  [93.0,720,670,620],[93.5,720,680,625],[94.0,710,660,635],[94.5,790,745,700],[95.0,835,785,745],
  [95.5,885,845,800],[96.0,860,810,785],[96.5,865,820,775],[97.0,840,790,740],[97.5,820,780,725],
  [98.0,755,705,680],[98.5,755,710,665],[99.0,735,685,645],[99.5,765,725,680],[100.0,775,725,700],
  [100.5,855,810,765],[101.0,890,840,790],[101.5,920,880,825],[102.0,840,790,765],[102.5,795,750,705],
  [103.0,740,690,650],[103.5,750,710,665],[104.0,735,685,660],[104.5,805,760,715],[105.0,870,820,770],
  [105.5,940,900,845],[106.0,930,880,855],[106.5,930,885,840],[107.0,845,795,755],[107.5,815,775,730],
  [108.0,770,720,695],[108.5,825,780,735],[109.0,890,840,790],[109.5,980,940,885],[110.0,980,930,905],
  [110.5,1010,965,920],[111.0,1000,950,910],[111.5,1015,975,930],[112.0,975,925,900],[112.5,985,940,895],
  [113.0,975,925,875],[113.5,985,945,890],[114.0,940,890,865],[114.5,945,900,855],[115.0,925,875,835],
  [115.5,960,920,875],[116.0,935,885,860],[116.5,915,870,825],[117.0,860,810,760],[117.5,840,800,745],
  [118.0,775,725,700],[118.5,765,720,675],[119.0,730,680,640],[119.5,735,695,650],[120.0,690,640,615],
  [120.5,695,650,605],[121.0,678,628,578],[121.5,688,648,593],[122.0,652,602,577],[122.5,680,635,590],
  [123.0,695,645,605],[123.5,755,715,670],[124.0,770,720,695],[124.5,835,790,745],[125.0,870,820,770],
  [125.5,925,885,830],[126.0,925,875,850],[126.5,960,915,870],[127.0,925,875,835],[127.5,895,855,810],
  [128.0,805,755,730],[128.5,775,730,685],[129.0,740,690,640],[129.5,745,705,650],[130.0,708,658,633],
  [130.5,722,677,632],[131.0,705,655,615],[131.5,725,685,640],[132.0,697,647,622],[132.5,723,678,633],
  [133.0,730,680,630],[133.5,768,728,673],[134.0,758,708,683],[134.5,798,753,708],[135.0,795,745,705],
  [135.5,810,770,725],[136.0,763,713,688],[136.5,763,718,673],[137.0,740,690,640],[137.5,750,710,655],
  [138.0,715,665,640],[138.5,732,687,642],[139.0,717,667,627],[139.5,739,699,654],[140.0,713,663,638],
  [140.5,740,695,650],[141.0,744,694,644],[141.5,775,735,680],[142.0,758,708,683],[142.5,792,747,702],
  [143.0,793,743,703],[143.5,830,790,745],[144.0,820,770,745],[144.5,860,815,770],[145.0,875,825,775],
  [145.5,915,875,820],[146.0,903,853,828],[146.5,940,895,850],[147.0,940,890,850],[147.5,975,935,890],
  [148.0,960,910,885],[148.5,995,950,905],[149.0,1005,955,905],[149.5,1040,1000,945],[150.0,1025,975,950],
  [150.5,1062,1017,972],[151.0,1065,1015,975],[151.5,1105,1065,1020],[152.0,1100,1050,1025],[152.5,1145,1100,1055],
  [153.0,1170,1120,1070],[153.5,1225,1185,1130],[154.0,1240,1190,1165],[154.5,1305,1260,1215],[155.0,1335,1285,1245],
  [155.5,1400,1360,1315],[156.0,1420,1370,1345],[156.5,1495,1450,1405],[157.0,1540,1490,1440],[157.5,1620,1580,1525],
  [158.0,1650,1600,1575],[158.5,1730,1685,1640],[159.0,1775,1725,1685],[159.5,1855,1815,1770],[160.0,1885,1835,1810],
  [160.5,1965,1920,1875],[161.0,2020,1970,1920],[161.5,2100,2060,2005],[162.0,2130,2080,2055],[162.5,2200,2155,2110],
  [163.0,2225,2175,2135],[163.5,2275,2235,2190],[164.0,2265,2215,2190],[164.5,2300,2255,2210],[165.0,2300,2250,2200],
  [165.5,2310,2270,2215],[166.0,2240,2190,2165]
];

// Inset: 40 K minus 295 K difference, 33-37 deg
const inset2Theta = [
  33.00,33.05,33.10,33.15,33.20,33.25,33.30,33.35,33.40,33.45,33.50,33.55,33.60,33.65,33.70,33.75,33.80,33.85,33.90,33.95,
  34.00,34.05,34.10,34.15,34.20,34.25,34.30,34.35,34.40,34.45,34.50,34.55,34.60,34.65,34.70,34.75,34.80,34.85,34.90,34.95,
  35.00,35.05,35.10,35.15,35.20,35.25,35.30,35.35,35.40,35.45,35.50,35.55,35.60,35.65,35.70,35.75,35.80,35.85,35.90,35.95,
  36.00,36.05,36.10,36.15,36.20,36.25,36.30,36.35,36.40,36.45,36.50,36.55,36.60,36.65,36.70,36.75,36.80,36.85,36.90,36.95,
  37.00
];
const insetDelta = [
  10,0,-5,-40,-10,-45,-50,-35,35,-35,-30,30,15,5,-55,-80,5,20,5,-5,
  10,-20,10,-10,-5,-15,0,5,-30,5,-50,0,40,-35,30,40,-45,-100,-120,-135,
  -80,-35,15,-5,15,-20,10,-45,-15,0,-55,-35,-20,65,155,90,120,155,150,120,
  85,0,50,-30,50,50,5,-55,-15,20,20,15,-35,-45,-70,-5,5,-55,-35,25,
  -60
];
const insetSigma = [
  48,47,47,46,46,47,47,46,48,47,46,47,47,46,46,47,47,46,47,46,
  46,46,46,46,46,46,46,46,47,46,46,46,47,47,47,47,47,48,48,48,
  47,47,47,46,46,46,46,46,46,46,47,47,47,48,50,49,49,50,50,49,
  49,48,48,48,48,48,47,47,47,47,47,47,47,47,47,47,47,47,47,47,
  47
];
const starAt = [36.25, 185];

// Axis ranges and tick labels
const xRange = [0, 168.5];
const xTicks = [0, 50, 100, 150];
const yRangeA = [-1200, 12000];
const yTicksA = [0, 2000, 4000, 6000, 8000, 10000, 12000];
const yRangeBC = [500, 3500];
const yTicksBC = [500, 1000, 1500, 2000, 2500, 3000, 3500];
const insetXRange = [33, 37];
const insetXTicks = [33, 34, 35, 36, 37];
const insetYRange = [-250, 350];
const insetYTicks = [-200, -100, 0, 100, 200, 300];

// Text
const panelLabels = ['(a) 500 K', '(b) 295 K', '(c) 40 K'];
const formulaParts = [['Ni', 0], ['44', 1], ['Co', 0], ['6', 1], ['Mn', 0], ['40', 1], ['Sn', 0], ['10', 1]];
const yTitle = 'Normalized Intensity [arb. units]';
const xTitle = '2θ [°]';
const insetLabel = '40 K - 295 K';
const insetYTitle = 'I [Arb. Units]';

// ---------------------------------------------------------------------------
// Styling
// ---------------------------------------------------------------------------
const FONT = '"DejaVu Sans", "Liberation Sans", sans-serif';
const TITLE_FONT = '"Liberation Sans", Arial, sans-serif';
const RED = '#ec1c24';
const GREEN = '#0aa253';
const BLUE = '#2e3192';
const ORANGE = '#f7a04a';
const Y_AXIS_WIDTH = 175;

const legendRows = [
  { sym: 'plus', color: RED, parts: [['I', 0], ['obs', 1]] },
  { sym: 'dash', color: GREEN, parts: [['I', 0], ['calc', 1]] },
  { sym: 'dash', color: BLUE, parts: [['Diff.', 0]] }
];

// '+' marker, slightly wider than tall
function crossImage(w, h, color, lw) {
  const c = document.createElement('canvas');
  c.width = w; c.height = h;
  const g = c.getContext('2d');
  g.fillStyle = color;
  g.fillRect(0, Math.floor((h - lw) / 2), w, lw);
  g.fillRect(Math.floor((w - lw) / 2), 0, lw, h);
  return c;
}
const crossMark = crossImage(11, 9, '#ed1c24', 1.5);

const xy = pts => pts.map(([x, y]) => ({ x, y }));
const rowsToPoints = rows => rows.flatMap(([t, ...vals]) => vals.map(y => ({ x: t, y })));

// ---------------------------------------------------------------------------
// Plugins
// ---------------------------------------------------------------------------
// Box frame with inward major/minor ticks on all four sides
function frameLayer(cfg) {
  return {
    id: 'frameLayer',
    afterDatasetsDraw(chart) {
      const { ctx, chartArea: a } = chart;
      const sx = chart.scales.x, sy = chart.scales.y;
      const isMajor = (v, list) => list.some(m => Math.abs(m - v) < 1e-6);
      ctx.save();
      ctx.strokeStyle = cfg.tickColor;
      ctx.lineWidth = cfg.tickWidth;
      ctx.beginPath();
      for (let i = Math.ceil(sx.min / cfg.xMinor - 1e-9); i * cfg.xMinor <= sx.max + 1e-9; i++) {
        const v = i * cfg.xMinor;
        const len = isMajor(v, cfg.xMajors) ? cfg.majorLen : cfg.minorLen;
        const px = Math.round(sx.getPixelForValue(v)) + 0.5;
        ctx.moveTo(px, a.bottom); ctx.lineTo(px, a.bottom - len);
        ctx.moveTo(px, a.top); ctx.lineTo(px, a.top + len);
      }
      for (let i = Math.ceil(sy.min / cfg.yMinor - 1e-9); i * cfg.yMinor <= sy.max + 1e-9; i++) {
        const v = i * cfg.yMinor;
        const len = isMajor(v, cfg.yMajors) ? cfg.majorLen : cfg.minorLen;
        const py = Math.round(sy.getPixelForValue(v)) + 0.5;
        ctx.moveTo(a.left, py); ctx.lineTo(a.left + len, py);
        ctx.moveTo(a.right, py); ctx.lineTo(a.right - len, py);
      }
      ctx.stroke();
      ctx.strokeStyle = cfg.frameColor;
      ctx.lineWidth = cfg.frameWidth;
      ctx.strokeRect(a.left, a.top, a.right - a.left, a.bottom - a.top);
      ctx.restore();
    }
  };
}

// Keep the first and last y labels inside the panel box
function nudgeEdgeLabels(scale, topShift, bottomShift) {
  const base = Object.getPrototypeOf(scale).getPixelForTick;
  scale.getPixelForTick = function (i) {
    const p = base.call(this, i);
    const t = this.ticks[i];
    if (!t) return p;
    if (t.value === this.max) return p + topShift;
    if (t.value === this.min) return p - bottomShift;
    return p;
  };
}

function textLayer(draw) {
  return { id: 'textLayer', afterDraw(chart) { const ctx = chart.ctx; ctx.save(); draw(ctx, chart); ctx.restore(); } };
}

function runWidth(ctx, parts, mainFont, subFont) {
  let w = 0;
  for (const [t, sub] of parts) { ctx.font = sub ? subFont : mainFont; w += ctx.measureText(t).width; }
  return w;
}
function drawRun(ctx, x, y, parts, mainFont, subFont, drop) {
  for (const [t, sub] of parts) {
    ctx.font = sub ? subFont : mainFont;
    ctx.fillText(t, x, sub ? y + drop : y);
    x += ctx.measureText(t).width;
  }
}

function drawPanelLabel(ctx, a, text) {
  ctx.fillStyle = '#000';
  ctx.font = `30px ${FONT}`;
  ctx.textAlign = 'left';
  ctx.textBaseline = 'alphabetic';
  ctx.fillText(text, a.left + 10, a.top + 41);
}

function drawPanelA(ctx, chart) {
  const a = chart.chartArea;
  drawPanelLabel(ctx, a, panelLabels[0]);

  // composition, right aligned
  const mainF = `31px ${FONT}`, subF = `22px ${FONT}`;
  ctx.fillStyle = '#000';
  const w = runWidth(ctx, formulaParts, mainF, subF);
  drawRun(ctx, a.right - 24 - w, a.top + 46, formulaParts, mainF, subF, 7);

  // legend
  const symX = a.right - 127, textX = a.right - 94;
  legendRows.forEach((row, i) => {
    const base = a.top + 83 + i * 43;
    const cy = base - 10;
    ctx.fillStyle = row.color;
    ctx.strokeStyle = row.color;
    if (row.sym === 'plus') {
      ctx.lineWidth = 1.2;
      ctx.beginPath();
      ctx.moveTo(symX - 4, cy); ctx.lineTo(symX + 4, cy);
      ctx.moveTo(symX, cy - 4); ctx.lineTo(symX, cy + 4);
      ctx.stroke();
    } else {
      ctx.fillRect(symX - 4, cy - 1.5, 8, 3);
    }
    drawRun(ctx, textX, base, row.parts, `28px ${FONT}`, `20px ${FONT}`, 8);
  });
}

function drawPanelB(ctx, chart) {
  const a = chart.chartArea;
  drawPanelLabel(ctx, a, panelLabels[1]);
  ctx.translate(40, a.top + a.height / 2 + 8);
  ctx.rotate(-Math.PI / 2);
  ctx.fillStyle = '#000';
  ctx.font = `30px ${TITLE_FONT}`;
  ctx.textAlign = 'center';
  ctx.textBaseline = 'middle';
  ctx.fillText(yTitle, 0, 0);
}

function drawPanelC(ctx, chart) {
  const a = chart.chartArea;
  drawPanelLabel(ctx, a, panelLabels[2]);
  ctx.fillStyle = '#000';
  ctx.font = `29px ${FONT}`;
  ctx.textAlign = 'center';
  ctx.textBaseline = 'middle';
  ctx.fillText(xTitle, (a.left + a.right) / 2, a.bottom + 60);
}

function drawInsetText(ctx, chart) {
  const a = chart.chartArea;
  const sx = chart.scales.x, sy = chart.scales.y;
  ctx.fillStyle = '#000';
  ctx.font = `25px ${FONT}`;
  ctx.textAlign = 'left';
  ctx.textBaseline = 'alphabetic';
  ctx.fillText(insetLabel, a.left + 9, a.top + 28);

  ctx.font = `24px ${FONT}`;
  ctx.textAlign = 'center';
  ctx.textBaseline = 'middle';
  ctx.fillText(xTitle, (a.left + a.right) / 2, a.bottom + 46);

  // blue asterisk marking the new reflection
  ctx.fillStyle = BLUE;
  ctx.font = `bold 44px ${FONT}`;
  ctx.textBaseline = 'alphabetic';
  const m = ctx.measureText('*');
  const cx = sx.getPixelForValue(starAt[0]), cy = sy.getPixelForValue(starAt[1]);
  ctx.fillText('*', cx, cy + (m.actualBoundingBoxAscent - m.actualBoundingBoxDescent) / 2);

  ctx.save();
  ctx.translate(31, (a.top + a.bottom) / 2);
  ctx.rotate(-Math.PI / 2);
  ctx.fillStyle = '#000';
  ctx.font = `24px ${TITLE_FONT}`;
  ctx.textAlign = 'center';
  ctx.textBaseline = 'middle';
  ctx.fillText(insetYTitle, 0, 0);
  ctx.restore();
}

const insetBackdrop = {
  id: 'insetBackdrop',
  beforeDraw(chart) {
    const { ctx, chartArea: a } = chart;
    ctx.save();
    ctx.fillStyle = '#fff';
    ctx.fillRect(a.left, a.top, a.right - a.left, a.bottom - a.top);
    ctx.restore();
  }
};

const errorBars = {
  id: 'errorBars',
  beforeDatasetsDraw(chart) {
    const { ctx, chartArea: a } = chart;
    const sx = chart.scales.x, sy = chart.scales.y;
    ctx.save();
    ctx.beginPath();
    ctx.rect(a.left, a.top, a.right - a.left, a.bottom - a.top);
    ctx.clip();
    ctx.strokeStyle = '#222';
    ctx.lineWidth = 1;
    ctx.beginPath();
    inset2Theta.forEach((t, i) => {
      const px = Math.round(sx.getPixelForValue(t)) + 0.5;
      const y1 = sy.getPixelForValue(insetDelta[i] - insetSigma[i]);
      const y2 = sy.getPixelForValue(insetDelta[i] + insetSigma[i]);
      ctx.moveTo(px, y1); ctx.lineTo(px, y2);
      ctx.moveTo(px - 2, y1); ctx.lineTo(px + 2, y1);
      ctx.moveTo(px - 2, y2); ctx.lineTo(px + 2, y2);
    });
    ctx.stroke();
    ctx.restore();
  }
};

// ---------------------------------------------------------------------------
// Charts
// ---------------------------------------------------------------------------
function tickFont(size) { return { family: FONT, size }; }

function mainPanel(canvasId, datasets, o) {
  return new Chart(document.getElementById(canvasId), {
    type: 'scatter',
    data: { datasets },
    options: {
      responsive: false,
      animation: false,
      events: [],
      layout: { autoPadding: false, padding: { top: o.padTop, bottom: o.padBottom, left: 0, right: 1 } },
      plugins: { legend: { display: false }, tooltip: { enabled: false } },
      scales: {
        x: {
          type: 'linear', min: xRange[0], max: xRange[1], display: o.showX,
          grid: { display: false, drawTicks: false }, border: { display: false },
          afterBuildTicks: s => { s.ticks = xTicks.map(value => ({ value })); },
          afterFit: s => { s.height = o.xAxisHeight || 0; s.paddingLeft = 0; s.paddingRight = 0; },
          ticks: { font: tickFont(30), color: '#000', padding: 10, autoSkip: false, maxRotation: 0, callback: v => String(v) }
        },
        y: {
          type: 'linear', min: o.yRange[0], max: o.yRange[1],
          grid: { display: false, drawTicks: false }, border: { display: false },
          afterBuildTicks: s => { s.ticks = o.yTicks.map(value => ({ value })); },
          afterFit: s => { s.width = Y_AXIS_WIDTH; s.paddingTop = 0; s.paddingBottom = 0; },
          afterUpdate: s => nudgeEdgeLabels(s, o.nudge[0], o.nudge[1]),
          ticks: { font: tickFont(30), color: '#000', padding: 12, autoSkip: false, callback: v => String(v) }
        }
      }
    },
    plugins: [
      frameLayer({ xMinor: 10, xMajors: xTicks, yMinor: o.yMinor, yMajors: o.yTicks, majorLen: 8, minorLen: 4,
                   tickColor: '#3a3a3a', tickWidth: 1.1, frameColor: '#8a8a8a', frameWidth: 1.6 }),
      textLayer(o.draw)
    ]
  });
}

function obsDataset(rows) {
  return { data: rowsToPoints(rows), pointStyle: crossMark, pointRadius: 5, order: 3 };
}

mainPanel('panelA', [
  { data: xy(calc500), showLine: true, pointRadius: 0, borderColor: GREEN, borderWidth: 2.6, tension: 0, order: 0 },
  { data: xy(diff500), showLine: true, pointRadius: 0, borderColor: BLUE, borderWidth: 1.8, tension: 0, order: 1 },
  { data: braggPos500.map(x => ({ x, y: braggRow500 })), pointStyle: 'line', pointRotation: 90, pointRadius: 5,
    pointBorderColor: ORANGE, borderColor: ORANGE, pointBorderWidth: 1.6, order: 2 },
  obsDataset(obs500)
], { padTop: 14, padBottom: 15, showX: false, yRange: yRangeA, yTicks: yTicksA, yMinor: 500, nudge: [9, 0], draw: drawPanelA });

mainPanel('panelB', [obsDataset(obs295)],
  { padTop: 19, padBottom: 32, showX: false, yRange: yRangeBC, yTicks: yTicksBC, yMinor: 100, nudge: [7, 11], draw: drawPanelB });

mainPanel('panelC', [obsDataset(obs40)],
  { padTop: 22, padBottom: 0, showX: true, xAxisHeight: 77, yRange: yRangeBC, yTicks: yTicksBC, yMinor: 100, nudge: [6, 10], draw: drawPanelC });

new Chart(document.getElementById('inset'), {
  type: 'scatter',
  data: {
    datasets: [{
      data: inset2Theta.map((x, i) => ({ x, y: insetDelta[i] })),
      pointStyle: 'circle', pointRadius: 4.6,
      pointBackgroundColor: '#000', pointBorderColor: '#000', pointBorderWidth: 0,
      backgroundColor: '#000', borderColor: '#000'
    }]
  },
  options: {
    responsive: false,
    animation: false,
    events: [],
    layout: { autoPadding: false, padding: { top: 10, right: 65, left: 0, bottom: 0 } },
    plugins: { legend: { display: false }, tooltip: { enabled: false } },
    scales: {
      x: {
        type: 'linear', min: insetXRange[0], max: insetXRange[1],
        grid: { display: false, drawTicks: false }, border: { display: false },
        afterBuildTicks: s => { s.ticks = insetXTicks.map(value => ({ value })); },
        afterFit: s => { s.height = 72; s.paddingLeft = 0; s.paddingRight = 0; },
        ticks: { font: tickFont(24), color: '#000', padding: 7, autoSkip: false, maxRotation: 0, callback: v => String(v) }
      },
      y: {
        type: 'linear', min: insetYRange[0], max: insetYRange[1],
        grid: { display: false, drawTicks: false }, border: { display: false },
        afterBuildTicks: s => { s.ticks = insetYTicks.map(value => ({ value })); },
        afterFit: s => { s.width = 123; s.paddingTop = 0; s.paddingBottom = 0; },
        ticks: { font: tickFont(24), color: '#000', padding: 10, autoSkip: false, callback: v => String(v) }
      }
    }
  },
  plugins: [
    insetBackdrop,
    errorBars,
    frameLayer({ xMinor: 0.2, xMajors: insetXTicks, yMinor: 20, yMajors: insetYTicks, majorLen: 6, minorLen: 3,
                 tickColor: '#222', tickWidth: 1, frameColor: '#222', frameWidth: 1 }),
    textLayer(drawInsetText)
  ]
});
</script>
</body>
</html>
